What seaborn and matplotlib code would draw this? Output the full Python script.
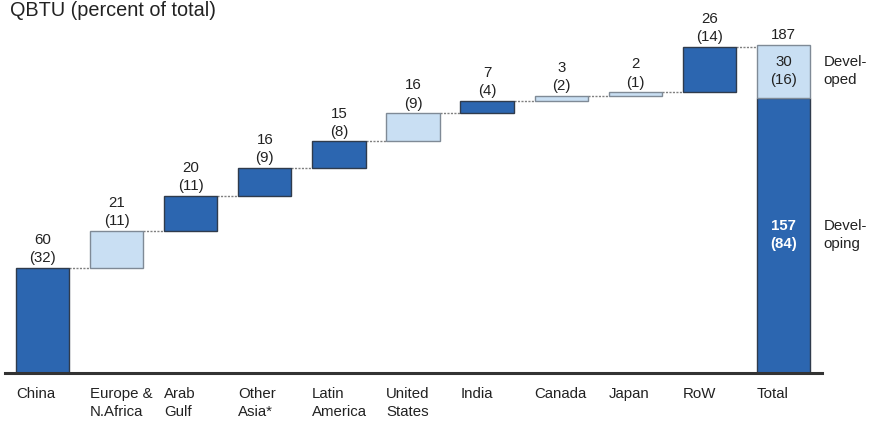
import matplotlib
matplotlib.use("Agg")
import matplotlib.pyplot as plt
import matplotlib.transforms as mtransforms
import seaborn as sns
import pandas as pd
import numpy as np

categories = ["China", "Europe &\nN.Africa", "Arab\nGulf", "Other\nAsia*", "Latin\nAmerica",
              "United\nStates", "India", "Canada", "Japan", "RoW", "Total"]
values = [60, 21, 20, 16, 15, 16, 7, 3, 2, 26]
percents = [32, 11, 11, 9, 8, 9, 4, 2, 1, 14]
developed = [False, True, False, False, False, True, False, True, True, False]
total_value = 187
total_developing = 157
total_developing_pct = 84
total_developed = 30
total_developed_pct = 16

DARK = "#2C66B0"
LIGHT = "#C9DFF3"
FS = 10.8
LS = 1.38

sns.set_theme(style="white")
plt.rcParams["font.family"] = ["Liberation Sans", "DejaVu Sans"]

fig = plt.figure(figsize=(8.69, 4.21), dpi=100)
ax = fig.add_axes([5 / 869, 48 / 421, 817 / 869, 350.8 / 421])

bottoms = list(np.concatenate([[0], np.cumsum(values)[:-1]])) + [0]
heights = values + [total_developing]
df = pd.DataFrame({"cat": categories, "h": heights, "b": bottoms})

sns.barplot(data=df, x="cat", y="h", bottom=df["b"].values, order=categories,
            errorbar=None, width=0.72, color=DARK, ax=ax, linewidth=1, edgecolor="#3b4656")

fills = [LIGHT if d else DARK for d in developed] + [DARK]
for p, c, d in zip(ax.patches, fills, developed + [False]):
    p.set_facecolor(c)
    p.set_edgecolor("#7f8a96" if d else "#2f3b4c")
    p.set_zorder(3)

# developed part of total
ax.bar(len(categories) - 1, total_developed, bottom=total_developing, width=0.72,
       color=LIGHT, edgecolor="#7f8a96", linewidth=1, zorder=3)

# connectors
tops = list(np.cumsum(values))
for i, t in enumerate(tops):
    ax.plot([i + 0.36, i + 1 - 0.36], [t, t], color="#808080", lw=1, ls=(0, (1.5, 1)), zorder=2)

# value labels
for i, (v, pc) in enumerate(zip(values, percents)):
    top = bottoms[i] + v
    ax.annotate(f"{v}\n({pc})", (i, top), xytext=(0, 2), textcoords="offset points",
                ha="center", va="bottom", fontsize=FS, color="#222222", linespacing=LS)

ti = len(categories) - 1
ax.annotate(f"{total_value}", (ti, total_value), xytext=(0, 2), textcoords="offset points",
            ha="center", va="bottom", fontsize=FS, color="#222222")
ax.text(ti, total_developing + total_developed / 2, f"{total_developed}\n({total_developed_pct})",
        ha="center", va="center", fontsize=FS, color="#222222", linespacing=LS)
ax.text(ti, total_developing / 2, f"{total_developing}\n({total_developing_pct})",
        ha="center", va="center", fontsize=FS, color="white", fontweight="bold", linespacing=LS)
ax.text(ti + 0.545, total_developing + total_developed / 2, "Devel-\noped",
        ha="left", va="center", fontsize=FS, color="#222222", linespacing=LS, clip_on=False)
ax.text(ti + 0.545, total_developing / 2, "Devel-\noping",
        ha="left", va="center", fontsize=FS, color="#222222", linespacing=LS, clip_on=False)

# category labels
ax.set_xticks([])
ax.set_xlabel("")
trans = mtransforms.blended_transform_factory(ax.transData, ax.transAxes)
for i, c in enumerate(categories):
    ax.text(i - 0.36, -0.04, c, transform=trans, ha="left", va="top", fontsize=FS,
            color="#222222", linespacing=LS)

ax.set_xlim(-0.506, 10.52)
ax.set_ylim(0, 200)
ax.set_yticks([])
ax.set_ylabel("")
for s in ["top", "right", "left"]:
    ax.spines[s].set_visible(False)
ax.spines["bottom"].set_color("#333333")
ax.spines["bottom"].set_linewidth(2.2)
ax.spines["bottom"].set_zorder(5)

fig.text(10 / 869, 1 - 1 / 421, "QBTU (percent of total)", ha="left", va="top",
         fontsize=14.3, color="#222222")

fig.savefig("out.png", dpi=100)
